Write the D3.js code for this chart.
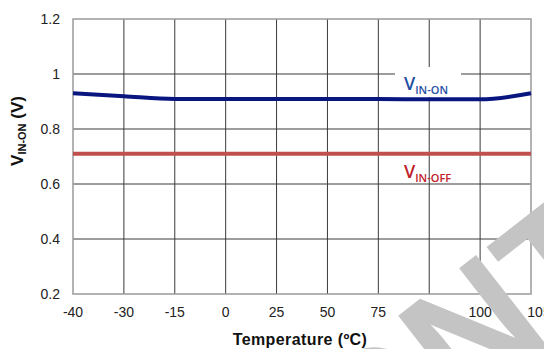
<!DOCTYPE html>
<html lang="en">
<head>
<meta charset="UTF-8">
<title>VIN-ON vs Temperature</title>
<script src="https://d3js.org/d3.v7.min.js"></script>
<style>
  body { margin: 0; background: #fff; }
  svg { display: block; }
  .tick { font-family: "Liberation Sans", Arial, sans-serif; font-size: 14px; fill: #222; }
</style>
</head>
<body>
<svg width="544" height="349"></svg>
<script>
  // chart data
  const temps = ["-40", "-30", "-15", "0", "25", "50", "75", "85", "100", "105"];
  const vinOn = [0.930, 0.919, 0.909, 0.909, 0.909, 0.909, 0.909, 0.908, 0.908, 0.930];
  const vinOff = [0.71, 0.71, 0.71, 0.71, 0.71, 0.71, 0.71, 0.71, 0.71, 0.71];
  const yTicks = [0.2, 0.4, 0.6, 0.8, 1, 1.2];

  const svg = d3.select("svg");
  const plotL = 73, plotR = 531, plotT = 19, plotB = 294;

  const x = d3.scalePoint().domain(temps).range([plotL, plotR]);
  const y = d3.scaleLinear().domain([0.2, 1.2]).range([plotB, plotT]);

  // grid lines
  svg.append("g").selectAll("line").data(temps.slice(1, -1)).join("line")
    .attr("x1", d => x(d)).attr("x2", d => x(d))
    .attr("y1", plotT).attr("y2", plotB)
    .attr("stroke", "#3a3a3a").attr("stroke-width", 1);
  svg.append("g").selectAll("line").data(yTicks.slice(1, -1)).join("line")
    .attr("x1", plotL).attr("x2", plotR)
    .attr("y1", d => y(d)).attr("y2", d => y(d))
    .attr("stroke", "#3a3a3a").attr("stroke-width", 1);

  // frame
  svg.append("rect")
    .attr("x", plotL).attr("y", plotT)
    .attr("width", plotR - plotL).attr("height", plotB - plotT)
    .attr("fill", "none").attr("stroke", "#9a9a9a").attr("stroke-width", 1.5);

  // tick labels (last one runs off the right edge, as in the original)
  svg.append("g").selectAll("text").data(temps).join("text")
    .attr("class", "tick")
    .attr("x", (d, i) => x(d) + (i === temps.length - 1 ? 8 : 0))
    .attr("y", 317)
    .attr("text-anchor", "middle")
    .text(d => d);
  svg.append("g").selectAll("text").data(yTicks).join("text")
    .attr("class", "tick")
    .attr("x", 60)
    .attr("y", d => y(d))
    .attr("dy", "0.35em")
    .attr("text-anchor", "end")
    .text(d => d);

  // white patch behind the V_IN-ON label
  svg.append("rect")
    .attr("x", 395).attr("y", 67).attr("width", 66).attr("height", 30)
    .attr("fill", "#fff");

  const line = d3.line()
    .x((d, i) => x(temps[i]))
    .y(d => y(d))
    .curve(d3.curveMonotoneX);

  svg.append("path").datum(vinOff)
    .attr("d", line)
    .attr("fill", "none").attr("stroke", "#c0504d").attr("stroke-width", 4);
  svg.append("path").datum(vinOn)
    .attr("d", line)
    .attr("fill", "none").attr("stroke", "#0a1680").attr("stroke-width", 4);

  // series labels
  function seriesLabel(xPos, yPos, sub, color) {
    const t = svg.append("text")
      .attr("x", xPos).attr("y", yPos)
      .attr("font-family", "'Open Sans', sans-serif")
      .attr("font-weight", 600)
      .attr("font-size", 18)
      .attr("fill", color);
    t.append("tspan").text("V");
    t.append("tspan").attr("dy", 4).attr("font-size", 11).text(sub);
  }
  seriesLabel(404, 90, "IN-ON", "#1f4ea3");
  seriesLabel(404, 178, "IN-OFF", "#c0202a");

  // axis titles
  const yt = svg.append("text")
    .attr("transform", "translate(23,131) rotate(-90)")
    .attr("text-anchor", "middle")
    .attr("font-family", "'Liberation Sans', Arial, sans-serif")
    .attr("font-weight", "bold")
    .attr("font-size", 17)
    .attr("fill", "#111");
  yt.append("tspan").text("V");
  yt.append("tspan").attr("dy", 3).attr("font-size", 11).text("IN-ON");
  yt.append("tspan").attr("dy", -3).text(" (V)");

  svg.append("text")
    .attr("x", 300).attr("y", 345)
    .attr("text-anchor", "middle")
    .attr("font-family", "'Liberation Sans', Arial, sans-serif")
    .attr("font-weight", "bold")
    .attr("font-size", 16)
    .attr("letter-spacing", 0.4)
    .attr("fill", "#111")
    .text("Temperature (ºC)");

  // watermark
  svg.append("text")
    .attr("transform", "translate(262,569) rotate(-38)")
    .attr("font-family", "'Liberation Sans', Arial, sans-serif")
    .attr("font-weight", "bold")
    .attr("font-size", 168)
    .attr("fill", "#c4c4c4")
    .text("CONTROLLED");
</script>
</body>
</html>
